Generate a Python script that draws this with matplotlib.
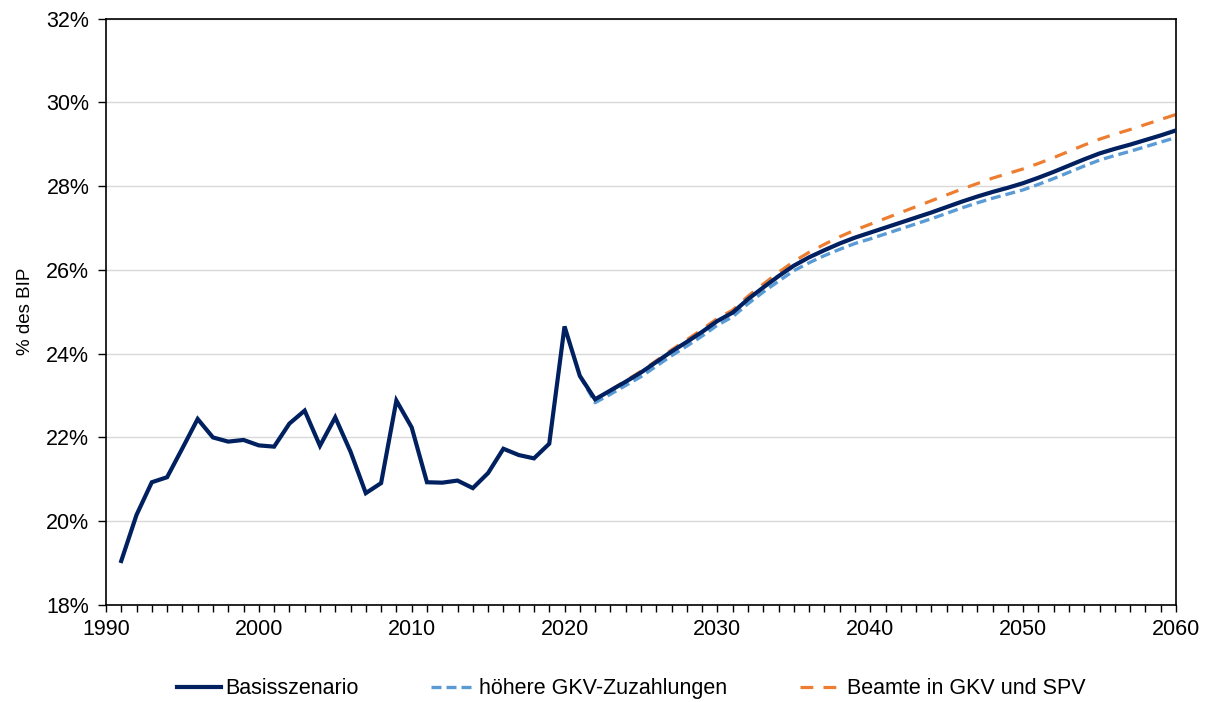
import matplotlib
matplotlib.use('Agg')
import matplotlib.pyplot as plt
from matplotlib.ticker import FuncFormatter, MultipleLocator

plt.rcParams['font.family'] = ['Liberation Sans', 'DejaVu Sans']

# Basisszenario: history 1991-2021 plus projection 2022-2060
years_base = list(range(1991, 2061))
basis = [
    19.05, 20.15, 20.93, 21.05, 21.74, 22.44, 22.00, 21.90, 21.94, 21.81,
    21.78, 22.33, 22.64, 21.80, 22.48, 21.66, 20.67, 20.91, 22.88, 22.24,
    20.93, 20.92, 20.97, 20.79, 21.15, 21.73, 21.58, 21.50, 21.85, 24.65,
    23.47,
    22.91, 23.12, 23.33, 23.55, 23.80, 24.05, 24.28, 24.52, 24.78, 24.98,
    25.30, 25.58, 25.85, 26.10, 26.30, 26.47, 26.63, 26.77, 26.89, 27.01,
    27.13, 27.25, 27.37, 27.50, 27.63, 27.75, 27.86, 27.96, 28.07, 28.20,
    28.34, 28.49, 28.64, 28.78, 28.89, 28.99, 29.10, 29.21, 29.33,
]

# Scenarios branch off from 2021
years_scen = list(range(2021, 2061))
gkv_zuzahlung = [
    23.47,
    22.83, 23.03, 23.24, 23.45, 23.70, 23.95, 24.18, 24.42, 24.68, 24.88,
    25.19, 25.47, 25.73, 25.98, 26.17, 26.34, 26.49, 26.63, 26.74, 26.86,
    26.98, 27.10, 27.22, 27.35, 27.48, 27.60, 27.71, 27.81, 27.91, 28.04,
    28.18, 28.33, 28.48, 28.62, 28.73, 28.83, 28.94, 29.05, 29.16,
]
beamte = [
    23.47,
    22.91, 23.13, 23.35, 23.58, 23.83, 24.09, 24.33, 24.58, 24.84, 25.04,
    25.37, 25.66, 25.94, 26.20, 26.42, 26.61, 26.79, 26.95, 27.09, 27.23,
    27.37, 27.51, 27.65, 27.79, 27.93, 28.06, 28.19, 28.30, 28.41, 28.54,
    28.68, 28.83, 28.98, 29.12, 29.24, 29.35, 29.47, 29.59, 29.71,
]

NAVY = '#002060'
LIGHT_BLUE = '#5B9BD5'
ORANGE = '#ED7D31'
FS = 15.5

fig = plt.figure(figsize=(12.08, 7.02), dpi=100)
ax = fig.add_axes([0.0877, 0.1382, 0.8858, 0.8354])

ax.plot(years_scen, gkv_zuzahlung, color=LIGHT_BLUE, linewidth=2.4,
        dashes=(3.0, 1.5), label='höhere GKV-Zuzahlungen', zorder=3)
ax.plot(years_scen, beamte, color=ORANGE, linewidth=2.3,
        dashes=(4.0, 3.2), label='Beamte in GKV und SPV', zorder=2)
ax.plot(years_base, basis, color=NAVY, linewidth=3.0,
        solid_joinstyle='miter', label='Basisszenario', zorder=4)

ax.set_xlim(1990, 2060)
ax.set_ylim(18, 32)
ax.xaxis.set_major_locator(MultipleLocator(10))
ax.xaxis.set_minor_locator(MultipleLocator(1))
ax.yaxis.set_major_locator(MultipleLocator(2))
ax.yaxis.set_major_formatter(FuncFormatter(lambda v, p: f'{v:.0f}%'))

ax.grid(axis='y', color='#D9D9D9', linewidth=1.0)
ax.set_axisbelow(True)
for s in ax.spines.values():
    s.set_linewidth(1.2)
    s.set_color('black')

ax.tick_params(axis='both', labelsize=FS, direction='out', width=1.0,
               colors='black', pad=4)
ax.tick_params(axis='x', which='major', length=5, pad=5)
ax.tick_params(axis='x', which='minor', length=5, width=1.0)
ax.tick_params(axis='y', length=6, pad=6)

ax.set_ylabel('% des BIP', fontsize=13.5, labelpad=9)

handles, labels = ax.get_legend_handles_labels()
order = [2, 0, 1]
fig.legend([handles[i] for i in order], [labels[i] for i in order],
           loc='center', bbox_to_anchor=(0.523, 0.019), ncol=3,
           frameon=False, fontsize=FS, handlelength=2.0,
           handletextpad=0.2, columnspacing=3.4)

fig.savefig('out.png', dpi=100)
